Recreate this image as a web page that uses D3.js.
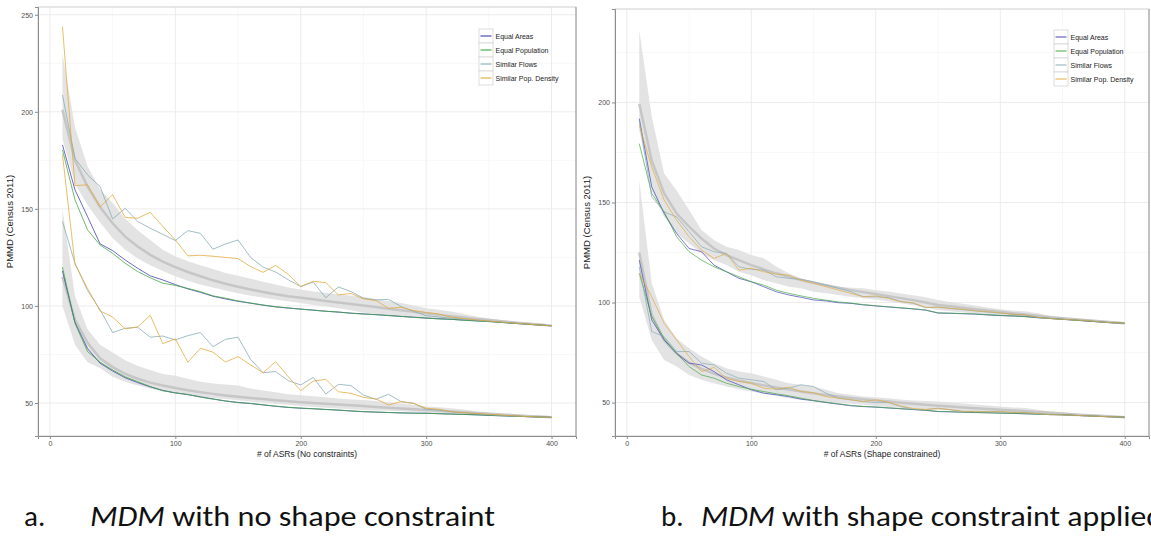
<!DOCTYPE html>
<html>
<head>
<meta charset="utf-8">
<script src="https://cdn.jsdelivr.net/npm/d3@7"></script>
<style>
    body { margin: 0; background: #fff; }
    svg { display: block; }
</style>
</head>
<body>
<div id="chart"></div>
<script>
const nAsr = [10, 20, 30, 40, 50, 60, 70, 80, 90, 100, 110, 120, 130, 140, 150, 160, 170, 180, 190, 200,
    210, 220, 230, 240, 250, 260, 270, 280, 290, 300, 310, 320, 330, 340, 350, 360, 370, 380, 390, 400]

const seriesNames = ['Equal Areas', 'Equal Population', 'Similar Flows', 'Similar Pop. Density']

const xMajor = [0, 100, 200, 300, 400]
const xMinor = [50, 150, 250, 350]

// panel a: no constraints
const noConAreasUpper = [183, 159.8, 146, 132, 128.5, 123.7, 119.4, 115.5, 113.4, 111, 108.8, 107, 105, 103.6, 102.4, 101.4, 100.4, 99.5, 98.9, 98.4,
    97.8, 97.3, 96.8, 96.3, 95.9, 95.5, 95.1, 94.6, 94.2, 93.7, 93.4, 93.1, 92.7, 92.3, 92, 91.5, 91.1, 90.6, 90.2, 89.8]
const noConPopUpper = [180.4, 154.6, 139.2, 131.4, 127.1, 122, 117.7, 114.5, 111.7, 110.6, 109, 107.4, 105.2, 104, 102.6, 101.5, 100.5, 99.6, 99, 98.3,
    97.9, 97.2, 96.9, 96.2, 95.8, 95.5, 95, 94.6, 94.1, 93.8, 93.3, 93.1, 92.6, 92.3, 91.9, 91.5, 91, 90.6, 90.2, 89.8]
const noConFlowsUpper = [208.7, 176, 167.5, 161.5, 144.8, 150.3, 143.5, 140, 136.9, 133.7, 138.8, 137.4, 129.2, 131.9, 134, 125, 120, 117.5, 113.5, 110,
    112.3, 104.2, 109.8, 107.4, 104, 103.1, 103.4, 99.7, 97.2, 95, 94.3, 93.7, 93.2, 92.7, 92.2, 91.7, 91.2, 90.7, 90.2, 89.8]
const noConDensityUpper = [244, 162, 162.4, 151, 157.3, 145.6, 145.2, 148.2, 141, 134, 125.8, 126.1, 125.6, 125, 124.4, 120.3, 117.3, 120.9, 116.3, 110,
    112.7, 112, 105.7, 106.4, 103.6, 102.8, 98.8, 99.3, 97.6, 96.6, 95.9, 94.2, 93.5, 92.8, 92.2, 91.7, 91.2, 90.7, 90.2, 89.8]
const noConAreasLower = [118, 91.5, 78, 70.5, 66.5, 63, 60.5, 58.3, 56.5, 55.2, 54.3, 53.2, 52.1, 51, 50.3, 49.7, 49, 48.3, 47.7, 47.3,
    47, 46.7, 46.3, 45.9, 45.5, 45.3, 45.1, 44.9, 44.8, 44.7, 44.5, 44.3, 44.1, 43.9, 43.6, 43.4, 43.2, 43, 42.8, 42.6]
const noConPopLower = [120, 91, 76.5, 71, 67, 63.5, 61, 58.5, 56.3, 55.2, 54.4, 53, 52, 51.1, 50.2, 49.8, 49.1, 48.4, 47.8, 47.4,
    47.1, 46.6, 46.4, 45.9, 45.6, 45.3, 45.1, 44.9, 44.7, 44.7, 44.5, 44.3, 44.1, 43.9, 43.7, 43.4, 43.2, 43, 42.8, 42.6]
const noConFlowsLower = [143.5, 122, 108, 98, 86.3, 88.5, 89, 83.9, 84.5, 82.5, 84.7, 86.3, 79, 82.8, 83.9, 72.5, 65.6, 66.2, 61.5, 59.3,
    63.2, 54.6, 59.6, 59, 54.1, 51.9, 54.5, 50.7, 49.8, 46.8, 46.4, 45.5, 45, 44.5, 44, 43.6, 43.3, 43, 42.8, 42.6]
const noConDensityLower = [178, 121.5, 109, 97.4, 94.3, 88.2, 89.2, 95.2, 80.6, 83, 71, 78.2, 76.2, 71.1, 73.9, 69.6, 65.6, 71.3, 63.6, 56.4,
    61.3, 62.2, 55.8, 55, 52.9, 52.1, 49, 50.7, 49.8, 47.3, 46.8, 45.5, 45, 44.6, 44.2, 43.8, 43.4, 43.1, 42.8, 42.6]

const noConBandUpperMax = [230, 192, 172, 160, 153, 145, 139, 134, 129, 125.5, 123, 121, 119, 117, 115.5, 114, 112.5, 111, 109.5, 108.5,
    107.5, 106.8, 106, 105.2, 104.6, 103.6, 102.6, 101.5, 100.2, 98.8, 98, 97.1, 95.8, 94.6, 93.5, 92.7, 91.9, 91.1, 90.4, 89.9]
const noConBandUpperMin = [186, 163, 152, 143, 135, 129, 124.5, 121, 118, 115.3, 113, 111, 109.5, 108, 106.5, 105.3, 104.3, 103.2, 102.4, 101.5,
    100.5, 99.7, 98.8, 97.8, 96.5, 95.8, 95.2, 94.6, 94.1, 93.7, 93.4, 93.1, 92.7, 92.3, 91.9, 91.4, 91, 90.6, 90.2, 89.7]
const noConSmoothUpper = [201, 175, 161.5, 151, 142.6, 135.7, 130.6, 126.3, 122.8, 120, 117.5, 115.3, 113.2, 111.4, 109.9, 108.5, 107.2, 106, 105, 104.2,
    103.4, 102.6, 101.8, 101, 100.2, 99.4, 98.6, 97.8, 97, 96.2, 95.4, 94.7, 94, 93.3, 92.7, 92.1, 91.5, 90.9, 90.4, 89.8]
const noConBandLowerMax = [150, 105, 88, 80, 76, 72, 69, 67, 65, 64, 62.5, 61, 60, 59.5, 59, 57.5, 56.5, 55.5, 54.5, 54,
    53.5, 53, 52.3, 51.8, 51.5, 51, 50.4, 49.8, 49, 48.2, 47.8, 47.3, 46.6, 45.8, 45, 44.4, 43.9, 43.4, 43, 42.7]
const noConBandLowerMin = [100, 80, 71, 68, 63.5, 61, 59, 57.5, 56, 55, 54.3, 53.4, 52.6, 52, 51.4, 50.8, 50.2, 49.6, 49.1, 48.4,
    48, 47.6, 47.2, 46.8, 46.4, 46.2, 46, 45.7, 45.4, 45, 44.8, 44.6, 44.3, 44, 43.7, 43.4, 43.1, 42.9, 42.7, 42.5]
const noConSmoothLower = [115, 93, 81, 73, 68.5, 65, 62.5, 60.5, 59, 57.7, 56.6, 55.6, 54.7, 53.9, 53.2, 52.6, 52, 51.4, 50.9, 50.4,
    50, 49.6, 49.2, 48.8, 48.4, 48, 47.6, 47.2, 46.8, 46.4, 46, 45.6, 45.2, 44.8, 44.5, 44.1, 43.7, 43.3, 43, 42.6]

// panel b: shape constrained
const shapeAreasUpper = [191.9, 157.8, 144.5, 134.5, 127, 125.4, 118.7, 115.4, 112.1, 110.4, 107.9, 105.4, 103.8, 102.6, 101.3, 100.8, 99.9, 99.6, 98.8, 98.3,
    97.8, 97.3, 96.8, 96.2, 94.7, 94.6, 94.4, 94.2, 93.8, 93.5, 93.3, 93, 92.4, 92, 91.6, 91.2, 90.7, 90.3, 89.9, 89.6]
const shapePopUpper = [179.4, 154.5, 145.3, 132.9, 125.4, 121.2, 117.9, 115.4, 112.9, 110.4, 108.7, 106.2, 104.6, 103.3, 102.1, 101.2, 100.3, 99.7, 99, 98.4,
    97.9, 97.4, 96.9, 96.3, 94.9, 94.7, 94.5, 94.3, 93.9, 93.6, 93.3, 93, 92.5, 92.1, 91.6, 91.2, 90.8, 90.3, 89.9, 89.6]
const shapeFlowsUpper = [191, 152.8, 145.3, 142.8, 135.4, 127.9, 125.4, 124.6, 117.9, 116.6, 116.2, 112.9, 112.1, 111.6, 110.4, 108.7, 107.1, 105.4, 102.9, 102.9,
    102.5, 100.6, 99.6, 97.4, 97.8, 97, 96.4, 95.8, 95.2, 94.7, 94.1, 93.8, 92.7, 92.1, 91.7, 91.3, 91, 90.4, 89.9, 89.6]
const shapeDensityUpper = [188.6, 167.8, 151.2, 141.2, 132.9, 126.2, 122, 124.6, 116.2, 117.1, 115.4, 114.2, 113.7, 111.2, 109.6, 107.9, 106.2, 104.6, 102.9, 103.3,
    102.1, 100.4, 99.9, 97.6, 97.6, 97.1, 96.6, 95.9, 95.4, 94.9, 94.1, 93.8, 92.6, 92, 91.6, 91.3, 91, 90.4, 89.9, 89.6]
const shapeAreasLower = [121.2, 91.3, 81.3, 74.6, 69.7, 68.8, 65.5, 61.4, 58.9, 56.4, 54.7, 53.9, 53, 51.7, 51, 50, 49.2, 48.4, 48, 47.7,
    47.3, 46.9, 46.5, 46.1, 45.5, 45.4, 45.2, 45, 44.9, 44.7, 44.6, 44.4, 44.2, 44, 43.9, 43.6, 43.4, 43.1, 42.9, 42.7]
const shapePopLower = [114.6, 93, 82.1, 74.6, 68, 63.8, 62.2, 59.7, 58, 56.7, 55.5, 54.4, 53.4, 52.2, 51, 50.2, 49.4, 48.6, 48.1, 47.8,
    47.4, 47, 46.6, 46.2, 45.6, 45.4, 45.2, 45.1, 44.9, 44.8, 44.6, 44.4, 44.2, 44.1, 43.9, 43.6, 43.4, 43.1, 42.9, 42.7]
const shapeFlowsLower = [117.9, 85.5, 83, 75.5, 75.5, 69.7, 68.8, 64.7, 62.2, 61.4, 60.5, 56.4, 57.2, 58.9, 58, 54.7, 52.2, 51.4, 50.5, 50,
    50, 48, 46.7, 46.4, 47.2, 46.4, 45.5, 45.6, 45.5, 45.4, 45, 45.1, 44.4, 43.9, 43.9, 43.6, 43.4, 43.1, 42.9, 42.7]
const shapeDensityLower = [114.6, 102.9, 89.6, 81.3, 73, 65.5, 67.6, 62.2, 60.5, 59.7, 57.2, 56.7, 57.7, 55.5, 55, 53, 52.2, 51.4, 50.5, 51.4,
    50.2, 48.4, 47, 46.6, 47, 46.5, 45.7, 45.5, 45.4, 45.5, 45.1, 44.9, 44.5, 44, 43.9, 43.6, 43.4, 43.1, 42.9, 42.7]

const shapeBandUpperMax = [236, 193, 164.5, 156, 146.2, 136.2, 131.2, 127.9, 126.2, 123.7, 122.1, 118, 114.6, 112.1, 110.4, 108.7, 107.9, 107.4, 107.1, 106.2,
    105.5, 104.5, 103.6, 102.6, 101.3, 100.3, 99.4, 98.5, 97.5, 96.6, 96, 95.6, 94.6, 93.4, 92.6, 91.8, 91.1, 90.5, 90, 89.6]
const shapeBandUpperMin = [186, 156, 142.8, 134.5, 129.5, 124.6, 121.2, 118.7, 115.4, 113.7, 111.2, 109.6, 107.9, 107.1, 105.4, 104.6, 103.8, 102.9, 102.1, 101.5,
    100.6, 99.6, 98.6, 97.5, 96.3, 95.6, 95, 94.4, 93.7, 93.1, 92.9, 92.6, 92.2, 91.8, 91.3, 90.9, 90.5, 90.2, 89.9, 89.5]
const shapeSmoothUpper = [199.4, 171, 154.5, 144.5, 137.9, 132, 127, 123.7, 121.2, 118.7, 116.6, 114.6, 112.9, 111.2, 109.9, 108.7, 107.4, 106.2, 105.2, 104.3,
    103.2, 102.2, 101.2, 100, 98.8, 98.1, 97.4, 96.7, 96, 95.4, 94.7, 94, 93.4, 92.7, 92.1, 91.6, 91.1, 90.6, 90.1, 89.6]
const shapeBandLowerMax = [161, 109.6, 91.3, 82.1, 77.2, 73, 69.7, 67.2, 65.5, 64.7, 63, 61.4, 59.7, 58.9, 58, 56.4, 54.7, 53.9, 53, 52.7,
    52.2, 51.6, 51, 50.8, 50.5, 50, 49.5, 49, 48.5, 48, 47.6, 47.3, 46.4, 45.5, 45, 44.4, 43.9, 43.4, 43, 42.8]
const shapeBandLowerMin = [102.9, 81.3, 71.3, 68, 63.8, 61.4, 59.7, 58, 56.7, 55.5, 54.4, 53.4, 52.2, 51.4, 50.5, 50, 49.7, 49.4, 48.9, 48.3,
    47.8, 47.4, 47, 46.7, 46.4, 46.1, 45.8, 45.6, 45.3, 45, 44.8, 44.6, 44.3, 44, 43.4, 43.2, 43, 42.8, 42.7, 42.6]
const shapeSmoothLower = [125, 94, 81, 74.5, 70, 66.8, 64.5, 62.5, 61, 59.8, 58.6, 57.5, 56.5, 55.5, 54.6, 53.8, 53, 52.3, 51.7, 51.1,
    50.5, 49.9, 49.4, 48.9, 48.4, 48, 47.6, 47.2, 46.8, 46.4, 46.1, 45.7, 45.3, 44.9, 44.5, 44.1, 43.7, 43.4, 43.1, 42.7]

let width = 1151,
    height = 540;

let colors = ['#3c3cb4', '#3fa63f', '#83a9b3', '#e3a83a']

let svg = d3.select('#chart')
    .append('svg')
    .attr('width', width)
    .attr('height', height)

let panels = [
    {
        id: 'a', left: 38, right: 576, top: 7, bottom: 436,
        yDomain: [33, 254], yMajor: [50, 100, 150, 200, 250], yMinor: [75, 125, 175, 225],
        xTitle: '# of ASRs (No constraints)', legendX: 479, legendY: 29, lineOpacity: 0.85,
        groups: [
            { min: noConBandUpperMin, max: noConBandUpperMax, smooth: noConSmoothUpper, lines: [noConAreasUpper, noConPopUpper, noConFlowsUpper, noConDensityUpper] },
            { min: noConBandLowerMin, max: noConBandLowerMax, smooth: noConSmoothLower, lines: [noConAreasLower, noConPopLower, noConFlowsLower, noConDensityLower] }
        ]
    },
    {
        id: 'b', left: 615, right: 1149, top: 9, bottom: 436,
        yDomain: [33.3, 246.7], yMajor: [50, 100, 150, 200], yMinor: [75, 125, 175, 225],
        xTitle: '# of ASRs (Shape constrained)', legendX: 1054, legendY: 30, lineOpacity: 0.75,
        groups: [
            { min: shapeBandUpperMin, max: shapeBandUpperMax, smooth: shapeSmoothUpper, lines: [shapeAreasUpper, shapePopUpper, shapeFlowsUpper, shapeDensityUpper] },
            { min: shapeBandLowerMin, max: shapeBandLowerMax, smooth: shapeSmoothLower, lines: [shapeAreasLower, shapePopLower, shapeFlowsLower, shapeDensityLower] }
        ]
    }
]

panels.forEach(function (p) {
    let x = d3.scaleLinear().domain([-9.5, 419.5]).range([p.left, p.right])
    let y = d3.scaleLinear().domain(p.yDomain).range([p.bottom, p.top])

    let g = svg.append('g').attr('class', 'panel-' + p.id)

    g.append('clipPath')
        .attr('id', 'clip-' + p.id)
        .append('rect')
        .attr('x', p.left).attr('y', p.top)
        .attr('width', p.right - p.left).attr('height', p.bottom - p.top)

    g.append('rect')
        .attr('x', p.left).attr('y', p.top)
        .attr('width', p.right - p.left).attr('height', p.bottom - p.top)
        .attr('fill', '#fff')

    // grid
    g.selectAll('.xminor').data(xMinor).enter().append('line')
        .attr('x1', function (d) { return x(d) }).attr('x2', function (d) { return x(d) })
        .attr('y1', p.top).attr('y2', p.bottom)
        .attr('stroke', '#f6f6f6').attr('stroke-width', 0.8)
    g.selectAll('.yminor').data(p.yMinor).enter().append('line')
        .attr('y1', function (d) { return y(d) }).attr('y2', function (d) { return y(d) })
        .attr('x1', p.left).attr('x2', p.right)
        .attr('stroke', '#f6f6f6').attr('stroke-width', 0.8)
    g.selectAll('.xmajor').data(xMajor).enter().append('line')
        .attr('x1', function (d) { return x(d) }).attr('x2', function (d) { return x(d) })
        .attr('y1', p.top).attr('y2', p.bottom)
        .attr('stroke', '#ececec').attr('stroke-width', 1)
    g.selectAll('.ymajor').data(p.yMajor).enter().append('line')
        .attr('y1', function (d) { return y(d) }).attr('y2', function (d) { return y(d) })
        .attr('x1', p.left).attr('x2', p.right)
        .attr('stroke', '#ececec').attr('stroke-width', 1)

    let plot = g.append('g').attr('clip-path', 'url(#clip-' + p.id + ')')

    let band = d3.area()
        .x(function (d) { return x(d.n) })
        .y0(function (d) { return y(d.lo) })
        .y1(function (d) { return y(d.hi) })

    let line = d3.line()
        .x(function (d) { return x(d.n) })
        .y(function (d) { return y(d.v) })

    p.groups.forEach(function (grp) {
        let rows = nAsr.map(function (n, i) { return { n: n, lo: grp.min[i], hi: grp.max[i] } })
        plot.append('path')
            .datum(rows)
            .attr('d', band)
            .attr('fill', '#dedede')
            .attr('fill-opacity', 0.85)

        plot.append('path')
            .datum(nAsr.map(function (n, i) { return { n: n, v: grp.smooth[i] } }))
            .attr('d', line)
            .attr('fill', 'none')
            .attr('stroke', '#c6c6c6')
            .attr('stroke-width', 2.5)
    })

    p.groups.forEach(function (grp) {
        grp.lines.forEach(function (vals, k) {
            plot.append('path')
                .datum(nAsr.map(function (n, i) { return { n: n, v: vals[i] } }))
                .attr('d', line)
                .attr('fill', 'none')
                .attr('stroke', colors[k])
                .attr('stroke-opacity', p.lineOpacity)
                .attr('stroke-width', 0.9)
        })
    })

    // frame
    g.append('rect')
        .attr('x', p.left).attr('y', p.top)
        .attr('width', p.right - p.left).attr('height', p.bottom - p.top)
        .attr('fill', 'none')
        .attr('stroke', '#cfcfcf')
    g.append('line')
        .attr('x1', p.right).attr('x2', p.right).attr('y1', p.top).attr('y2', p.bottom)
        .attr('stroke', '#9a9a9a')

    let xAxis = g.append('g')
        .attr('transform', 'translate(0,' + p.bottom + ')')
        .call(d3.axisBottom(x).tickValues(xMajor).tickSize(3).tickPadding(2))
    let yAxis = g.append('g')
        .attr('transform', 'translate(' + p.left + ',0)')
        .call(d3.axisLeft(y).tickValues(p.yMajor).tickSize(3).tickPadding(2))

    ;[xAxis, yAxis].forEach(function (ax) {
        ax.select('.domain').attr('stroke', '#8c8c8c')
        ax.selectAll('.tick line').attr('stroke', '#8c8c8c')
        ax.selectAll('.tick text')
            .attr('fill', '#4d4d4d')
            .attr('font-family', 'Liberation Sans, Arial, sans-serif')
            .attr('font-size', 7)
    })

    g.append('text')
        .attr('x', (p.left + p.right) / 2)
        .attr('y', p.bottom + 21)
        .attr('text-anchor', 'middle')
        .attr('font-family', 'Liberation Sans, Arial, sans-serif')
        .attr('font-size', 8.5)
        .attr('fill', '#222')
        .text(p.xTitle)

    g.append('text')
        .attr('transform', 'translate(' + (p.left - 25) + ',' + ((p.top + p.bottom) / 2) + ') rotate(-90)')
        .attr('text-anchor', 'middle')
        .attr('font-family', 'Liberation Sans, Arial, sans-serif')
        .attr('font-size', 9.5)
        .attr('fill', '#222')
        .text('PMMD (Census 2011)')

    // legend
    let legend = g.append('g')
        .attr('transform', 'translate(' + p.legendX + ',' + p.legendY + ')')
    let items = legend.selectAll('.key')
        .data(seriesNames)
        .enter().append('g')
        .attr('transform', function (d, i) { return 'translate(0,' + (i * 14) + ')' })
    items.append('rect')
        .attr('width', 14).attr('height', 14)
        .attr('fill', '#fff')
        .attr('stroke', '#d4d4d4')
        .attr('stroke-width', 0.8)
    items.append('line')
        .attr('x1', 1.5).attr('x2', 12.5).attr('y1', 7).attr('y2', 7)
        .attr('stroke', function (d, i) { return colors[i] })
        .attr('stroke-opacity', p.lineOpacity)
        .attr('stroke-width', 1.3)
    items.append('text')
        .attr('x', 16.5).attr('y', 9.5)
        .attr('font-family', 'Liberation Sans, Arial, sans-serif')
        .attr('font-size', 7)
        .attr('fill', '#222')
        .text(function (d) { return d })
})

// captions under the panels
let captions = [
    { label: 'a.', labelX: 24, titleX: 90, rest: ' with no shape constraint', span: 405 },
    { label: 'b.', labelX: 661, titleX: 701, rest: ' with shape constraint applied', span: 462 }
]

captions.forEach(function (c) {
    let font = 'Carlito, Calibri, Lato, sans-serif'
    svg.append('text')
        .attr('x', c.labelX).attr('y', 526)
        .attr('font-family', font).attr('font-size', 29).attr('fill', '#111')
        .text(c.label)
    let t = svg.append('text')
        .attr('x', c.titleX).attr('y', 526)
        .attr('font-family', font).attr('font-size', 29).attr('fill', '#111')
        .attr('textLength', c.span)
        .attr('lengthAdjust', 'spacingAndGlyphs')
    t.append('tspan').attr('font-style', 'italic').text('MDM')
    t.append('tspan').text(c.rest)
})
</script>
</body>
</html>
